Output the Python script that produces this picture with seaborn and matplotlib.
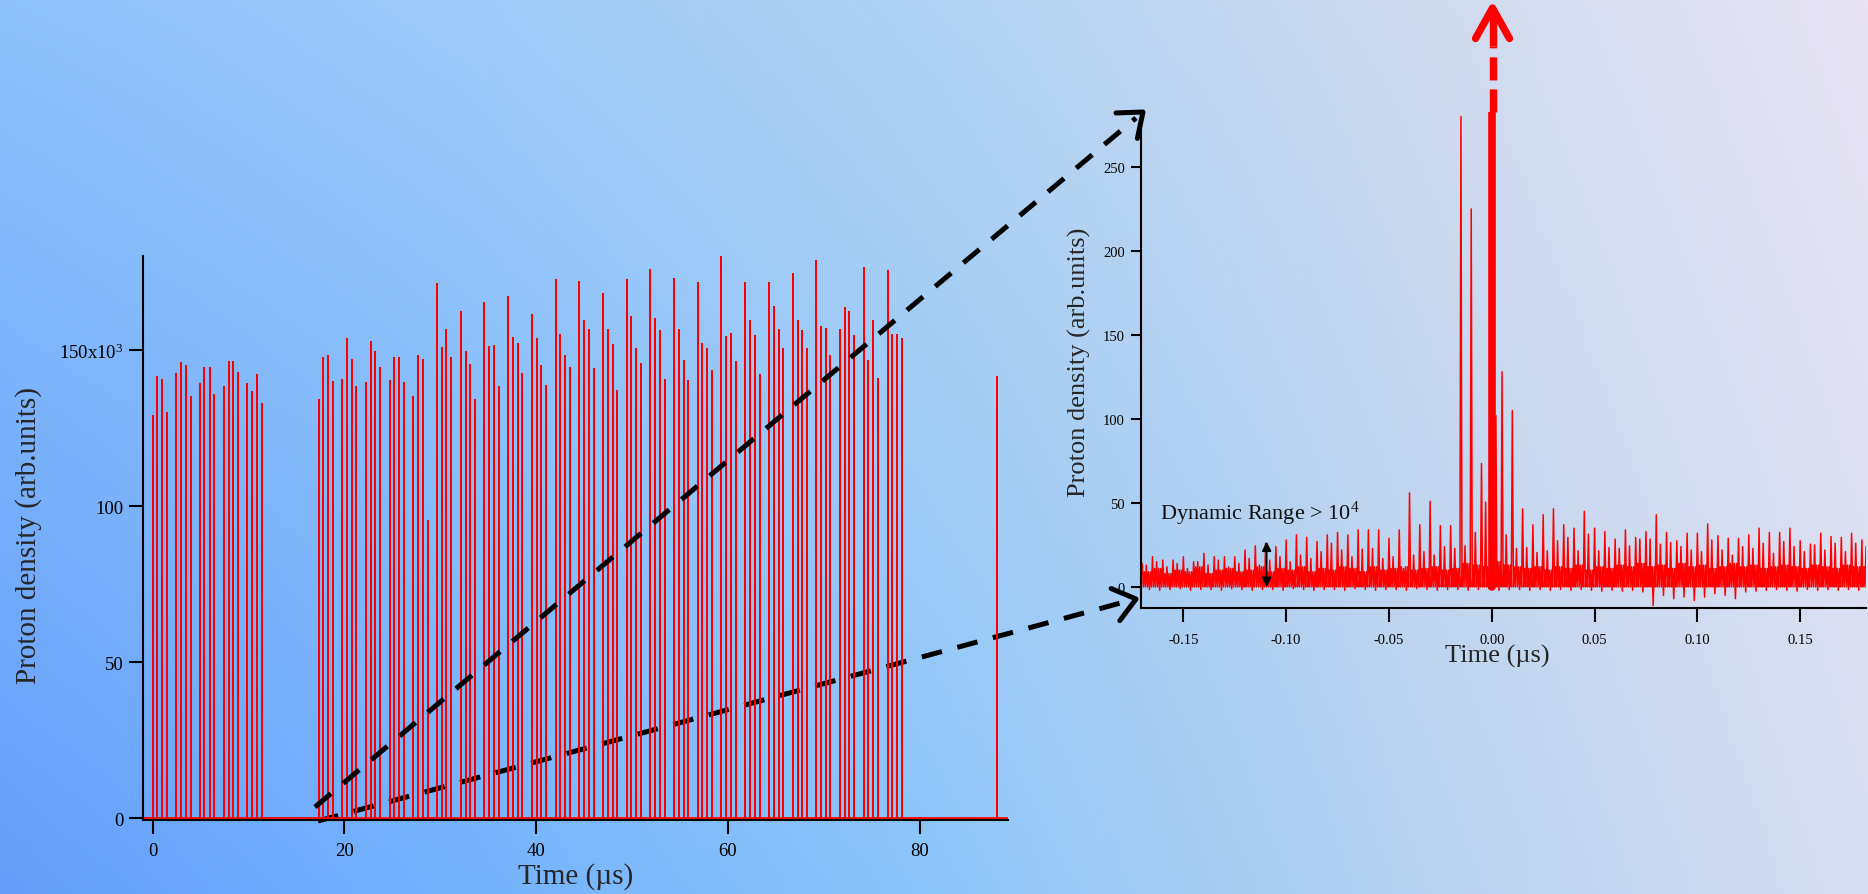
import numpy as np
import pandas as pd
import matplotlib
matplotlib.use("Agg")
import matplotlib.pyplot as plt
import seaborn as sns
from matplotlib.lines import Line2D

# ---------------------------------------------------------------- data
# Main pulse train: peak times (µs) and peak heights (x10^3 arb. units)
train_times = [
    0.02, 0.50, 1.02, 1.47, 2.44, 2.96, 3.44, 3.97, 4.90, 5.41,
    5.94, 6.43, 7.40, 7.92, 8.40, 8.89, 9.85, 10.34, 10.87, 11.39,
    17.31, 17.79, 18.28, 18.80, 19.76, 20.25, 20.77, 21.25, 22.22, 22.74,
    23.23, 23.75, 24.72, 25.21, 25.69, 26.21, 27.18, 27.67, 28.19, 28.67,
    29.64, 30.16, 30.64, 31.16, 32.13, 32.65, 33.15, 33.63, 34.60, 35.08,
    35.60, 36.09, 37.07, 37.56, 38.08, 38.56, 39.54, 40.06, 40.54, 41.03,
    42.04, 42.52, 43.01, 43.50, 44.48, 44.97, 45.49, 46.01, 46.95, 47.47,
    47.99, 48.44, 49.45, 49.93, 50.42, 50.91, 51.92, 52.40, 52.89, 53.42,
    54.36, 54.88, 55.40, 55.88, 56.89, 57.34, 57.83, 58.32, 59.32, 59.81,
    60.30, 60.82, 61.79, 62.28, 62.80, 63.29, 64.27, 64.79, 65.27, 65.76,
    66.77, 67.25, 67.74, 68.23, 69.20, 69.69, 70.21, 70.69, 71.67, 72.19,
    72.67, 73.17, 74.18, 74.65, 75.15, 75.64, 76.64, 77.13, 77.62, 78.14,
    88.01,
]
train_heights = [
    128.8, 141.3, 140.3, 129.8, 142.4, 145.9, 144.9, 135.1, 139.2, 144.2,
    144.4, 135.5, 138.3, 146.1, 146.2, 142.6, 139.1, 136.6, 142.0, 132.9,
    134.0, 147.4, 148.0, 139.9, 140.3, 153.6, 146.7, 138.2, 139.6, 152.7,
    149.4, 144.2, 140.0, 147.6, 147.4, 139.5, 134.9, 148.2, 146.7, 95.3,
    171.3, 150.6, 156.6, 147.4, 162.4, 149.3, 145.4, 134.0, 165.1, 151.0,
    151.4, 138.1, 167.2, 154.0, 151.9, 142.3, 161.3, 153.7, 145.0, 138.5,
    172.5, 155.0, 148.2, 144.4, 171.9, 159.2, 156.6, 144.0, 168.1, 156.6,
    151.7, 137.0, 172.5, 160.6, 150.5, 145.5, 175.6, 160.1, 156.0, 140.6,
    172.8, 156.6, 146.4, 140.0, 171.6, 151.9, 150.5, 143.3, 179.9, 154.2,
    155.1, 146.3, 171.4, 159.5, 154.7, 141.9, 171.6, 163.9, 156.6, 150.3,
    174.5, 159.2, 156.2, 150.4, 178.7, 157.4, 156.8, 148.0, 156.6, 163.4,
    162.2, 154.4, 176.4, 146.4, 159.3, 140.7, 175.5, 154.8, 154.8, 153.6,
    141.4,
]
train_start, train_end = -1.0, 89.2

# Zoomed trace around the main pulse: sampled every 0.5 ns,
# one 5 ns period per entry (periods start at -0.170 µs).
zoom_t0 = -0.170
zoom_period = 0.005
zoom_sub = 0.0005
comb_peaks = [
    14, 18, 16, 16, 18, 15, 20, 18, 18, 18,
    22, 24.5, 26, 24, 28, 31, 29.5, 27, 31, 32.5,
    31, 34, 34, 34, 29, 34, 56, 37, 51, 36.5,
    36.5, 280, 225, 73.5, 2000, 128, 105, 46.5, 37, 43,
    46.5, 37, 35, 45, 35, 33, 28.5, 34, 29.5, 33,
    43, 32.5, 27.5, 32, 32, 37.5, 30.5, 29, 29, 31,
    35, 32.5, 32.5, 35, 27.5, 25.5, 32, 30, 29.5, 32,
    28,
]
mid_peaks = [
    13, 15, 12, 14, 11, 15, 13, 16, 12, 14,
    17, 13, 16, 18, 15, 19, 17, 21, 26, 22,
    18, 22.5, 23, 17, 18, 11, 19, 21, 19, 24,
    23, 24.5, 32.5, 50.5, 102, 31, 23, 23.5, 20.5, 21.5,
    27.5, 29.5, 21.5, 31.5, 21.5, 23.5, 23, 24.5, 28.5, 28.5,
    25.5, 26.5, 24, 22, 21, 28, 22, 19, 24, 23,
    26, 20, 27, 24, 21, 25, 22, 26, 21, 26,
    24,
]
floor_top = [
    9, 11, 8, 10, 9, 12, 8, 10, 11, 9,
    10, 12, 9, 11, 10, 12, 9, 11, 10, 12,
    11, 9, 12, 10, 11, 12, 10, 11, 12, 10,
    11, 14, 13, 12, 15, 13, 12, 11, 12, 10,
    12, 11, 13, 10, 12, 11, 13, 12, 14, 12,
    13, 11, 14, 12, 13, 11, 12, 14, 12, 13,
    11, 12, 13, 12, 11, 13, 12, 11, 13, 12,
    12,
]
dips = [
    -1.5, -2, -1.5, -1, -2, -1.5, -1.5, -2, -1, -1.5,
    -2, -1.5, -1.5, -2, -1, -1.5, -2, -1.5, -1.5, -2,
    -1, -1.5, -2, -1.5, -1.5, -2, -1, -1.5, -2, -1.5,
    -1.5, -2, -1.5, -1, -2, -1.5, -1.5, -2, -1.5, -2,
    -1.5, -2, -1.5, -2, -2.5, -2, -2.5, -2, -3, -11,
    -5, -7, -6, -8, -6, -4, -5, -7, -3, -2.5,
    -2, -1.5, -2, -2.5, -1.5, -2, -1.5, -2, -1.5, -2,
    -1.5,
]
main_peak_time = 0.0
main_peak_height = comb_peaks[34]

range_marker_t = -0.1095
range_marker_top = 27

# ---------------------------------------------------------------- style
sns.set_theme(style="ticks")
plt.rcParams["font.family"] = ["Liberation Serif", "DejaVu Serif"]
plt.rcParams["mathtext.fontset"] = "custom"
plt.rcParams["mathtext.rm"] = "Liberation Serif"
plt.rcParams["mathtext.it"] = "Liberation Serif:italic"
plt.rcParams["axes.unicode_minus"] = False
plt.rcParams["lines.scale_dashes"] = False

W, H = 1868, 895
fig = plt.figure(figsize=(W / 100, H / 100), dpi=100)


def fpos(x, y):
    """pixel position (origin top-left) -> figure fraction"""
    return x / W, 1 - y / H


# ---------------------------------------------------------------- background
bg = fig.add_axes([0, 0, 1, 1], zorder=-5)
xs = np.linspace(0, 1, 400)
stops = [0.0, 0.25, 0.5, 0.75, 1.0]
top_cols = np.array([(142, 194, 252), (156, 202, 249), (178, 211, 243),
                     (205, 218, 238), (232, 228, 245)]) / 255
bot_cols = np.array([(100, 158, 250), (116, 178, 252), (140, 197, 250),
                     (182, 210, 240), (214, 221, 240)]) / 255
top_row = np.stack([np.interp(xs, stops, top_cols[:, c]) for c in range(3)], -1)
bot_row = np.stack([np.interp(xs, stops, bot_cols[:, c]) for c in range(3)], -1)
vv = np.linspace(0, 1, 200)[:, None, None]
grad = top_row[None] * (1 - vv) + bot_row[None] * vv
bg.imshow(grad, aspect="auto", extent=[0, 1, 0, 1], origin="upper")
bg.set_axis_off()

# ---------------------------------------------------------------- main panel
ax = fig.add_axes([143 / W, (H - 820.5) / H, 865 / W, 563.5 / H])
ax.patch.set_alpha(0)

tr_t, tr_v = [train_start], [0.0]
for t, h in zip(train_times, train_heights):
    tr_t += [t, t, t]
    tr_v += [0.0, h, 0.0]
tr_t.append(train_end)
tr_v.append(0.0)
train_df = pd.DataFrame({"t": tr_t, "v": tr_v})
sns.lineplot(data=train_df, x="t", y="v", sort=False, estimator=None,
             color="#ff0000", lw=1.3, ax=ax, zorder=2)

ax.set_xlim(train_start, train_end)
ax.set_ylim(-0.48, 180.2)
ax.set_xticks([0, 20, 40, 60, 80])
ax.set_xticklabels(["0", "20", "40", "60", "80"])
ax.set_yticks([0, 50, 100, 150])
ax.set_yticklabels(["0", "50", "100", r"150x10$^{3}$"])
for s in ["top", "right"]:
    ax.spines[s].set_visible(False)
for s in ["left", "bottom"]:
    ax.spines[s].set_linewidth(1.5)
    ax.spines[s].set_color("black")
ax.tick_params(axis="both", direction="out", length=10, width=1.5,
               colors="black", labelsize=13.5)
ax.tick_params(axis="x", pad=6)
ax.tick_params(axis="y", pad=4)
ax.set_xlabel("Time (µs)", fontsize=21, va="center")
ax.xaxis.set_label_coords(0.5, -0.1003)
ax.set_ylabel("Proton density (arb.units)", fontsize=21, va="center")
ax.yaxis.set_label_coords((29 - 143) / 865, 0.505)

# ---------------------------------------------------------------- zoom panel
ax2 = fig.add_axes([1141 / W, (H - 609.3) / H, 725 / W, 496.3 / H])
ax2.patch.set_alpha(0)

zt, zv = [], []
for k in range(len(comb_peaks)):
    base = zoom_t0 + k * zoom_period
    seq = [comb_peaks[k], 0, floor_top[k], 0, mid_peaks[k],
           0, floor_top[k], dips[k], floor_top[k], 0]
    for j, v in enumerate(seq):
        zt.append(base + j * zoom_sub)
        zv.append(v)
zoom_df = pd.DataFrame({"t": zt, "v": zv})
sns.lineplot(data=zoom_df, x="t", y="v", sort=False, estimator=None,
             color="#ff0000", lw=1.1, ax=ax2)
peak_df = pd.DataFrame({"t": [main_peak_time, main_peak_time],
                        "v": [0, main_peak_height]})
sns.lineplot(data=peak_df, x="t", y="v", sort=False, estimator=None,
             color="#ff0000", lw=5.5, ax=ax2)

ax2.set_xlim(-0.1706, 0.182)
ax2.set_ylim(-12.7, 282.7)
ax2.set_xticks([-0.15, -0.10, -0.05, 0.0, 0.05, 0.10, 0.15])
ax2.set_xticklabels(["-0.15", "-0.10", "-0.05", "0.00", "0.05", "0.10", "0.15"])
ax2.set_yticks([0, 50, 100, 150, 200, 250])
ax2.set_yticklabels(["0", "50", "100", "150", "200", "250"])
for s in ["top", "right"]:
    ax2.spines[s].set_visible(False)
for s in ["left", "bottom"]:
    ax2.spines[s].set_linewidth(1.5)
    ax2.spines[s].set_color("black")
ax2.tick_params(axis="both", direction="out", width=1.5, colors="black",
                labelsize=10.5)
ax2.tick_params(axis="x", length=10, pad=8)
ax2.tick_params(axis="y", length=7.5, pad=4)
ax2.set_xlabel("Time (µs)", fontsize=19, va="center")
ax2.xaxis.set_label_coords(0.491, -0.095)
ax2.set_ylabel("Proton density (arb.units)", fontsize=19, va="center")
ax2.yaxis.set_label_coords((1079 - 1141) / 725, 0.4973)

ax2.text(-0.1614, 40.5, r"Dynamic Range > 10$^{4}$", fontsize=16,
         ha="left", va="baseline", color="#111111")
ax2.annotate("", xy=(range_marker_t, range_marker_top),
             xytext=(range_marker_t, 0),
             arrowprops=dict(arrowstyle="<|-|>", color="black", lw=1.2,
                             mutation_scale=14, shrinkA=0, shrinkB=0))


# ---------------------------------------------------------------- arrows
def make_line(pts, color, lw, dashes=None, cap="butt", zorder=6):
    xs_ = [fpos(*p)[0] for p in pts]
    ys_ = [fpos(*p)[1] for p in pts]
    ln = Line2D(xs_, ys_, transform=fig.transFigure, color=color, lw=lw,
                solid_capstyle=cap, dash_capstyle="butt",
                solid_joinstyle="round", zorder=zorder)
    if dashes is not None:
        ln.set_linestyle((0, dashes))
    return ln


def head_pts(start, tip, length, ang):
    u = np.array(tip, float) - np.array(start, float)
    u /= np.hypot(*u)
    out = []
    for a in (ang, -ang):
        r = np.deg2rad(a)
        rot = np.array([[np.cos(r), -np.sin(r)], [np.sin(r), np.cos(r)]])
        out.append(tuple(np.array(tip) - length * rot @ u))
    return [out[0], tip, out[1]]


# upper zoom guide (drawn above the pulses)
s1, e1 = (315, 808), (1143, 113)
fig.add_artist(make_line([s1, (1136, 119)], "black", 3.6, dashes=(15, 11.5)))
fig.add_artist(make_line(head_pts(s1, e1, 27, 38), "black", 3.6, cap="round"))

# lower zoom guide (drawn beneath the pulses)
s2, e2 = (318, 822), (1136, 600)
low = make_line([s2, (1128, 602)], "black", 3.6, dashes=(15, 11.5), zorder=1.5)
ax.add_artist(low)
low.set_clip_on(False)
fig.add_artist(make_line(head_pts(s2, e2, 27, 38), "black", 3.6, cap="round"))

# off-scale marker above the main pulse
px_peak = 1492.5
fig.add_artist(make_line([(px_peak, 112.6), (px_peak, 47)], "#ff0000", 5.3,
                         dashes=(16.6, 6.5)))
fig.add_artist(make_line([(px_peak, 47), (px_peak, 12)], "#ff0000", 5.3))
fig.add_artist(make_line([(px_peak - 17, 39.5), (px_peak, 9),
                          (px_peak + 17, 39.5)], "#ff0000", 5.3, cap="round"))

fig.savefig("out.png", dpi=100)
